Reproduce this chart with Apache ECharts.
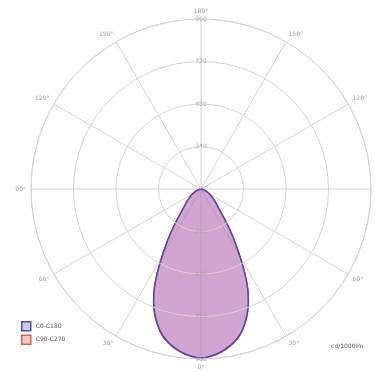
<!DOCTYPE html>
<html><head><meta charset="utf-8">
<script src="https://cdn.jsdelivr.net/npm/echarts@6/dist/echarts.min.js"></script>
<style>html,body{margin:0;padding:0;background:#fff}#c{width:375px;height:372px}</style>
</head><body><div id="c"></div>
<script>
// gamma angles (deg from nadir) and intensities (cd/1000lm)
const gammaAngles = [0,2.5,5,7.5,10,12.5,15,17.5,20,22.5,25,27.5,30,32.5,35,37.5,40,42.5,45,47.5,50,52.5,55,57.5,60,62.5,65,67.5,70,72.5,75,77.5,80,82.5,85,87.5,90];
const c0c180 = [954,948,938,923,904,880,850,808,758,698,625,535,440,360,290,230,182,150,128,112,98,85,74,64,55,46,38,31,24,18,13,9,6,3,2,1,0];
const c90c270 = [956,950,941,926,907,884,854,812,762,701,627,537,441,361,291,231,183,151,128,112,98,85,74,64,55,46,38,31,24,18,13,9,6,3,2,1,0];
const radiusTicks = [0,240,480,720,960];
const seriesNames = ['C0-C180','C90-C270'];
const unitLabel = 'cd/1000lm';

function lobe(vals){
  const pts = [];
  for (let i = gammaAngles.length-1; i > 0; i--) pts.push([vals[i], 360 - gammaAngles[i]]);
  for (let i = 0; i < gammaAngles.length; i++) pts.push([vals[i], gammaAngles[i]]);
  return pts;
}
const font = 'DejaVu Sans';
const gridColor = '#dad2ce';
const chart = echarts.init(document.getElementById('c'));
const polarCommon = {center:[201,189], radius:170};
chart.setOption({
  animation:false,
  polar:[Object.assign({},polarCommon), Object.assign({},polarCommon)],
  angleAxis:[{
    polarIndex:0, type:'value', min:0, max:360, interval:30, startAngle:270, clockwise:true,
    axisLine:{show:true, lineStyle:{color:gridColor, width:1}},
    axisTick:{show:false},
    splitLine:{show:true, lineStyle:{color:gridColor, width:1}},
    axisLabel:{show:true, fontSize:6, color:'#9a9a9a', fontFamily:font, margin:5,
      formatter:function(v){ if (v===360) return ''; return (v<=180? v : 360-v)+'°'; }}
  },{
    polarIndex:1, type:'value', min:0, max:360, interval:30, startAngle:90, clockwise:true,
    axisLine:{show:false}, axisTick:{show:false}, splitLine:{show:false}, axisLabel:{show:false}
  }],
  radiusAxis:[{
    polarIndex:0, type:'value', min:radiusTicks[0], max:radiusTicks[radiusTicks.length-1], interval:240,
    axisLine:{show:false}, axisTick:{show:false},
    splitLine:{show:true, lineStyle:{color:gridColor, width:1}},
    axisLabel:{show:true, showMinLabel:false, fontSize:6, color:'#a8a0a8', fontFamily:font, margin:0, align:'center', verticalAlign:'middle'},
    z:10
  },{
    polarIndex:1, type:'value', min:radiusTicks[0], max:radiusTicks[radiusTicks.length-1], interval:240,
    axisLine:{show:false}, axisTick:{show:false}, splitLine:{show:false},
    axisLabel:{show:true, showMinLabel:false, fontSize:6, color:'#a0a0a0', fontFamily:font, margin:0, align:'center', verticalAlign:'middle'}
  }],
  legend:{
    orient:'vertical', left:16, top:316, itemWidth:9, itemHeight:9, itemGap:3,
    icon:'rect',
    textStyle:{fontSize:6, color:'#555', fontFamily:font},
    data:[
      {name:seriesNames[0], itemStyle:{color:'#c8c8ea', borderColor:'#5050b0', borderWidth:1.5}},
      {name:seriesNames[1], itemStyle:{color:'#f6c8c0', borderColor:'#e06050', borderWidth:1.5}}
    ]
  },
  title:{text:unitLabel, right:7, top:338, textStyle:{fontSize:6, color:'#555', fontWeight:'normal', fontFamily:font}},
  series:[{
    name:seriesNames[1], type:'line', coordinateSystem:'polar', polarIndex:0,
    data:lobe(c90c270), showSymbol:false, smooth:0.2,
    lineStyle:{color:'#d04848', width:1.2},
    areaStyle:{color:'rgba(222,120,120,0.5)'}, z:2
  },{
    name:seriesNames[0], type:'line', coordinateSystem:'polar', polarIndex:0,
    data:lobe(c0c180), showSymbol:false, smooth:0.2,
    lineStyle:{color:'#5448a8', width:1.5},
    areaStyle:{color:'rgba(150,100,210,0.55)'}, z:3
  }]
});
</script></body></html>
